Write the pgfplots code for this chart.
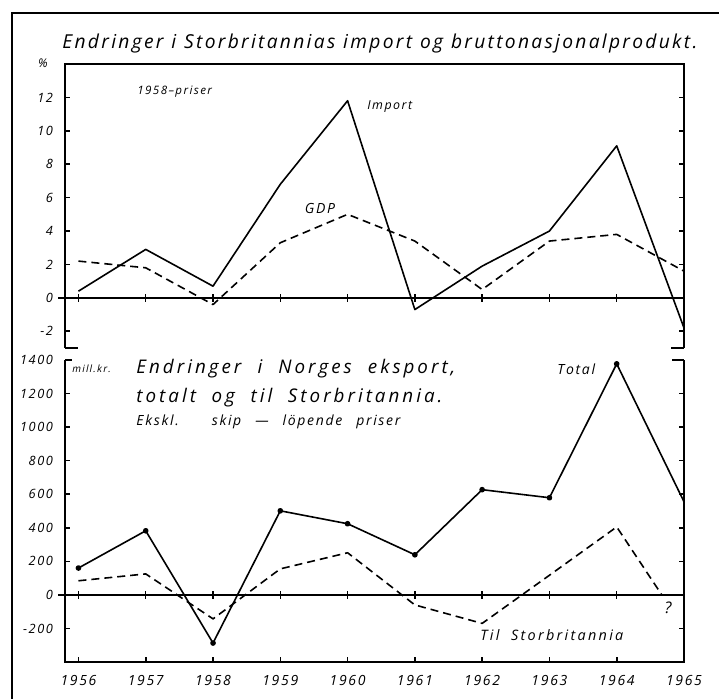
\documentclass[border=0pt]{standalone}
\usepackage{fontspec}
\setmainfont{Open Sans}[LetterSpace=12]
\usepackage{pgfplots}
\usepackage{pgfplotstable}
\pgfplotsset{compat=1.18}

% hand lettering: italic, spread to a given width
\newcommand\fs[1]{\fontsize{#1}{#1}\selectfont\itshape}
\newcommand\wide{\addfontfeature{LetterSpace=16}}
\newcommand\spread[2]{\makebox[#1][s]{#2}}

% x is years after 1956
\pgfplotstableread{
yr import gdp
0 0.4 2.2
1 2.9 1.8
2 0.7 -0.4
3 6.8 3.3
4 11.8 5.0
5 -0.7 3.4
6 1.9 0.5
7 4.0 3.4
8 9.1 3.8
9 -1.8 1.6
}\ukdata

\pgfplotstableread{
yr total
0 160
1 382
2 -287
3 501
4 424
5 239
6 627
7 579
8 1377
9 555
}\totdata

\pgfplotstableread{
yr uk
0 84
1 125
2 -143
3 155
4 251
5 -60
6 -170
7 117
8 405
8.67 0
}\ukexp

\pgfplotsset{panel/.style={
 anchor=south west,scale only axis,width=309.5pt,
 xmin=-0.2,xmax=9,clip=false,
 axis line style={draw=none},
 tick align=inside,major tick length=2.5pt,
 tick style={line width=0.8pt,black},
 /pgf/number format/1000 sep={},
 /pgf/number format/assume math mode=true,
 yticklabel style={font=\fs{6.4},xshift=-2.5pt},
 xticklabel style={font=\fs{7},yshift=-3pt},
 every axis plot/.append style={line width=0.8pt,line join=round}}}

\begin{document}
\begin{tikzpicture}
\useasboundingbox (0,0) rectangle (359.5pt,349.5pt);
\draw[line width=0.9pt] (6pt,0) -- (6pt,343pt) -- (359.5pt,343pt);

% upper panel: UK import and GDP, per cent
\begin{axis}[panel,name=up,at={(32.5pt,175.5pt)},height=142pt,
 ymin=-3,ymax=14,xtick=\empty,ytick={-2,0,...,12}]
\addplot[black] table[x=yr,y=import]{\ukdata};
\addplot[black,dash pattern=on 4pt off 2.5pt] table[x=yr,y=gdp]{\ukdata};
\draw[line width=0.8pt,shorten <=-3.5pt] (axis cs:-0.2,0) -- (axis cs:9,0);
\pgfplotsinvokeforeach{0,...,8}{
 \draw[line width=0.7pt] (axis cs:#1,0) ++(0pt,-2pt) -- ++(0pt,4pt);}
\end{axis}
\draw[line width=0.9pt] (up.south west) -- (up.north west) -- (up.north east) -- (up.south east);
\draw[line width=0.9pt] (up.south west) -- ++(6.5pt,0pt);
\draw[line width=0.9pt] (up.south east) -- ++(-6.5pt,0pt);

% lower panel: Norwegian exports, mill. kr
\begin{axis}[panel,name=lo,at={(32.5pt,18.5pt)},height=151pt,
 ymin=-400,ymax=1400,ytick={-200,0,...,1400},
 xtick={0,...,9},xticklabels={1956,1957,1958,1959,1960,1961,1962,1963,1964,1965},
 xtick pos=bottom]
\addplot[black,mark=*,mark size=1pt,mark options={solid,fill=black},
 mark indices={1,2,3,4,5,6,7,8,9}] table[x=yr,y=total]{\totdata};
\addplot[black,dash pattern=on 4pt off 2.5pt] table[x=yr,y=uk]{\ukexp};
\draw[line width=0.8pt,shorten <=-3.5pt] (axis cs:-0.2,0) -- (axis cs:9,0);
\pgfplotsinvokeforeach{0,...,8}{
 \draw[line width=0.7pt] (axis cs:#1,0) ++(0pt,-2pt) -- ++(0pt,4pt);}
\end{axis}
\draw[line width=0.9pt] (lo.north west) -- (lo.south west) -- (lo.south east) -- (lo.north east);
\draw[line width=0.9pt] (lo.north west) -- ++(3.5pt,0pt);
\draw[line width=0.9pt] (lo.north east) -- ++(-6pt,0pt);

% lettering
\node[anchor=base west,inner sep=0] at (31pt,325pt)
 {\fs{9.6}\spread{317.5pt}{Endringer i Storbritannias import og bruttonasjonalprodukt.}};
\node[inner sep=0] at (21.5pt,318pt) {\fs{6}\%};
\node[anchor=west,inner sep=0] at (68.5pt,303.5pt) {\fs{5.8}\spread{51.5pt}{1958–priser}};
\node[anchor=west,inner sep=0] at (183.5pt,296pt) {\fs{6.2}\spread{30pt}{Import}};
\node[inner sep=0] at (160pt,245pt) {\fs{7}GDP};
\node[anchor=west,inner sep=0] at (36pt,165pt) {\fs{5}\spread{26pt}{mill.kr.}};
\node[anchor=west,inner sep=0] at (68pt,165pt) {\fs{9.4}\wide\spread{159.5pt}{Endringer i Norges eksport,}};
\node[anchor=west,inner sep=0] at (68pt,150.5pt) {\fs{9.4}\wide\spread{153pt}{totalt og til Storbritannia.}};
\node[anchor=west,inner sep=0] at (68pt,138.5pt) {\fs{7}\spread{132pt}{Ekskl. skip — löpende priser}};
\node[anchor=west,inner sep=0] at (278.5pt,165pt) {\fs{7}\spread{24pt}{Total}};
\node[anchor=west,inner sep=0] at (240pt,32pt) {\fs{7.2}\wide\spread{71.5pt}{Til Storbritannia}};
\node[inner sep=0] at (334pt,45.5pt) {\fs{8}?};
\end{tikzpicture}
\end{document}
